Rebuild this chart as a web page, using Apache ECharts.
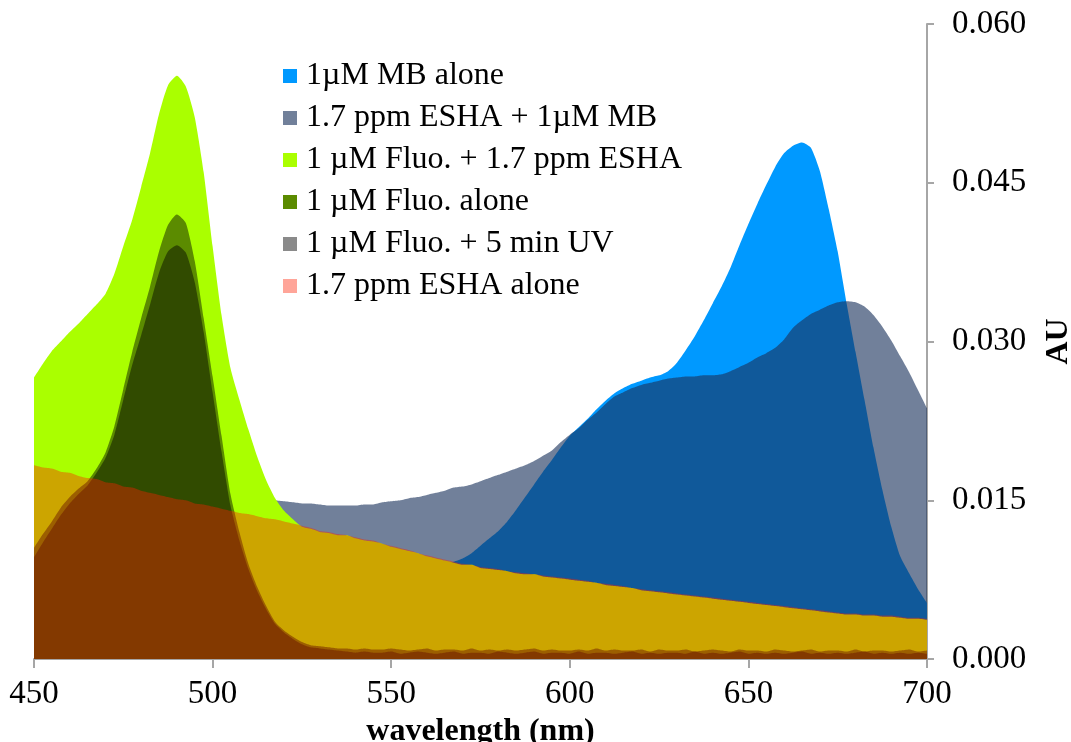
<!DOCTYPE html>
<html>
<head>
<meta charset="utf-8">
<title>Absorbance spectra</title>
<script src="https://cdn.jsdelivr.net/npm/echarts@6/dist/echarts.min.js"></script>
<style>
  html, body { margin: 0; padding: 0; background: #ffffff; overflow: hidden; }
  #chart { width: 1071px; height: 742px; }
</style>
</head>
<body>
<div id="chart"></div>
<script>
// Wavelength grid (nm)
const wavelength = [
  450, 452.5, 455, 457.5, 460, 462.5, 465, 467.5, 470, 472.5,
  475, 477.5, 480, 482.5, 485, 487.5, 490, 492.5, 495, 497.5,
  500, 502.5, 505, 507.5, 510, 512.5, 515, 517.5, 520, 522.5,
  525, 527.5, 530, 532.5, 535, 537.5, 540, 542.5, 545, 547.5,
  550, 552.5, 555, 557.5, 560, 562.5, 565, 567.5, 570, 572.5,
  575, 577.5, 580, 582.5, 585, 587.5, 590, 592.5, 595, 597.5,
  600, 602.5, 605, 607.5, 610, 612.5, 615, 617.5, 620, 622.5,
  625, 627.5, 630, 632.5, 635, 637.5, 640, 642.5, 645, 647.5,
  650, 652.5, 655, 657.5, 660, 662.5, 665, 667.5, 670, 672.5,
  675, 677.5, 680, 682.5, 685, 687.5, 690, 692.5, 695, 697.5,
  700
];

// 1 µM methylene blue alone
const mbAlone = [
  0.0036, 0.0036, 0.0035, 0.0035, 0.0034, 0.0034, 0.0034, 0.0033, 0.0033, 0.0033,
  0.0033, 0.0033, 0.0032, 0.0032, 0.0032, 0.0032, 0.0033, 0.0033, 0.0033, 0.0034,
  0.0034, 0.0035, 0.0035, 0.0036, 0.0037, 0.0038, 0.0039, 0.0040, 0.0042, 0.0043,
  0.0045, 0.0047, 0.0049, 0.0051, 0.0054, 0.0057, 0.0060, 0.0063, 0.0066, 0.0070,
  0.0073, 0.0077, 0.0080, 0.0083, 0.0086, 0.0088, 0.0090, 0.0092, 0.0095, 0.0100,
  0.0107, 0.0114, 0.0121, 0.0130, 0.0141, 0.0153, 0.0165, 0.0177, 0.0188, 0.0200,
  0.0211, 0.0219, 0.0227, 0.0236, 0.0244, 0.0251, 0.0256, 0.0260, 0.0263, 0.0266,
  0.0268, 0.0272, 0.0280, 0.0292, 0.0305, 0.0320, 0.0336, 0.0352, 0.0370, 0.0391,
  0.0411, 0.0430, 0.0448, 0.0465, 0.0478, 0.0485, 0.0488, 0.0483, 0.0461, 0.0425,
  0.0385, 0.0336, 0.0290, 0.0245, 0.0200, 0.0160, 0.0125, 0.0097, 0.0081, 0.0066,
  0.0053
];

// 1.7 ppm ESHA + 1 µM MB
const eshaMb = [
  0.0200, 0.0198, 0.0196, 0.0194, 0.0192, 0.0190, 0.0188, 0.0186, 0.0184, 0.0182,
  0.0180, 0.0178, 0.0176, 0.0174, 0.0172, 0.0170, 0.0168, 0.0166, 0.0164, 0.0162,
  0.0160, 0.0158, 0.0156, 0.0155, 0.0154, 0.0153, 0.0152, 0.0150, 0.0149, 0.0148,
  0.0147, 0.0147, 0.0146, 0.0145, 0.0145, 0.0145, 0.0145, 0.0146, 0.0146, 0.0148,
  0.0149, 0.0150, 0.0152, 0.0153, 0.0155, 0.0157, 0.0159, 0.0162, 0.0163, 0.0165,
  0.0168, 0.0171, 0.0174, 0.0177, 0.0180, 0.0183, 0.0187, 0.0192, 0.0197, 0.0205,
  0.0212, 0.0218, 0.0226, 0.0233, 0.0241, 0.0248, 0.0252, 0.0256, 0.0259, 0.0261,
  0.0263, 0.0265, 0.0266, 0.0267, 0.0267, 0.0268, 0.0268, 0.0269, 0.0272, 0.0276,
  0.0280, 0.0285, 0.0289, 0.0294, 0.0302, 0.0313, 0.0320, 0.0326, 0.0330, 0.0334,
  0.0337, 0.0338, 0.0337, 0.0333, 0.0325, 0.0314, 0.0301, 0.0286, 0.0271, 0.0254,
  0.0237
];

// 1 µM fluorescein + 1.7 ppm ESHA
const fluoEsha = [
  0.0266, 0.0279, 0.0291, 0.0300, 0.0309, 0.0317, 0.0326, 0.0335, 0.0345, 0.0364,
  0.0390, 0.0415, 0.0446, 0.0478, 0.0515, 0.0542, 0.0551, 0.0541, 0.0512, 0.0460,
  0.0390, 0.0325, 0.0275, 0.0245, 0.0217, 0.0191, 0.0169, 0.0152, 0.0140, 0.0132,
  0.0125, 0.0123, 0.0120, 0.0119, 0.0117, 0.0117, 0.0114, 0.0112, 0.0111, 0.0109,
  0.0106, 0.0104, 0.0102, 0.0100, 0.0097, 0.0095, 0.0093, 0.0091, 0.0089, 0.0089,
  0.0086, 0.0085, 0.0084, 0.0083, 0.0081, 0.0080, 0.0080, 0.0078, 0.0077, 0.0076,
  0.0075, 0.0074, 0.0073, 0.0072, 0.0070, 0.0069, 0.0068, 0.0067, 0.0065, 0.0064,
  0.0063, 0.0062, 0.0061, 0.0060, 0.0059, 0.0058, 0.0057, 0.0056, 0.0055, 0.0054,
  0.0053, 0.0052, 0.0051, 0.0050, 0.0049, 0.0048, 0.0047, 0.0046, 0.0045, 0.0044,
  0.0043, 0.0042, 0.0042, 0.0041, 0.0041, 0.0040, 0.0040, 0.0039, 0.0038, 0.0038,
  0.0037
];

// 1 µM fluorescein alone
const fluoAlone = [
  0.0105, 0.0118, 0.0130, 0.0143, 0.0153, 0.0161, 0.0168, 0.0180, 0.0195, 0.0220,
  0.0255, 0.0290, 0.0322, 0.0352, 0.0385, 0.0410, 0.0420, 0.0412, 0.0376, 0.0322,
  0.0267, 0.0211, 0.0156, 0.0120, 0.0090, 0.0068, 0.0050, 0.0035, 0.0027, 0.0021,
  0.0016, 0.0013, 0.0012, 0.0011, 0.0010, 0.0010, 0.0009, 0.0010, 0.0009, 0.0009,
  0.0010, 0.0009, 0.0008, 0.0009, 0.0010, 0.0008, 0.0009, 0.0009, 0.0008, 0.0010,
  0.0008, 0.0009, 0.0008, 0.0009, 0.0008, 0.0009, 0.0010, 0.0008, 0.0009, 0.0008,
  0.0008, 0.0009, 0.0008, 0.0010, 0.0008, 0.0009, 0.0008, 0.0008, 0.0009, 0.0007,
  0.0009, 0.0008, 0.0008, 0.0009, 0.0007, 0.0008, 0.0009, 0.0008, 0.0007, 0.0009,
  0.0008, 0.0008, 0.0007, 0.0009, 0.0008, 0.0007, 0.0008, 0.0009, 0.0007, 0.0008,
  0.0008, 0.0007, 0.0009, 0.0007, 0.0008, 0.0008, 0.0007, 0.0008, 0.0009, 0.0007,
  0.0008
];

// 1 µM fluorescein after 5 min UV
const fluoUv = [
  0.0096, 0.0110, 0.0123, 0.0136, 0.0147, 0.0156, 0.0164, 0.0176, 0.0190, 0.0212,
  0.0245, 0.0278, 0.0306, 0.0335, 0.0365, 0.0385, 0.0391, 0.0384, 0.0356, 0.0309,
  0.0252, 0.0196, 0.0145, 0.0112, 0.0085, 0.0064, 0.0047, 0.0033, 0.0025, 0.0019,
  0.0014, 0.0011, 0.0010, 0.0009, 0.0008, 0.0007, 0.0006, 0.0007, 0.0006, 0.0006,
  0.0007, 0.0005, 0.0006, 0.0007, 0.0006, 0.0005, 0.0006, 0.0007, 0.0005, 0.0006,
  0.0006, 0.0005, 0.0007, 0.0006, 0.0005, 0.0006, 0.0007, 0.0005, 0.0006, 0.0006,
  0.0005, 0.0007, 0.0005, 0.0006, 0.0006, 0.0005, 0.0006, 0.0007, 0.0005, 0.0006,
  0.0005, 0.0006, 0.0006, 0.0005, 0.0007, 0.0005, 0.0006, 0.0005, 0.0006, 0.0007,
  0.0005, 0.0006, 0.0005, 0.0006, 0.0005, 0.0006, 0.0007, 0.0005, 0.0006, 0.0005,
  0.0006, 0.0005, 0.0006, 0.0007, 0.0005, 0.0006, 0.0005, 0.0006, 0.0005, 0.0006,
  0.0005
];

// 1.7 ppm ESHA alone
const eshaAlone = [
  0.0183, 0.0181, 0.0180, 0.0177, 0.0176, 0.0173, 0.0171, 0.0170, 0.0167, 0.0166,
  0.0163, 0.0162, 0.0159, 0.0157, 0.0155, 0.0153, 0.0151, 0.0150, 0.0147, 0.0146,
  0.0144, 0.0142, 0.0140, 0.0138, 0.0137, 0.0135, 0.0133, 0.0132, 0.0130, 0.0128,
  0.0126, 0.0124, 0.0121, 0.0120, 0.0118, 0.0117, 0.0115, 0.0113, 0.0112, 0.0109,
  0.0107, 0.0105, 0.0103, 0.0100, 0.0098, 0.0096, 0.0094, 0.0092, 0.0090, 0.0089,
  0.0087, 0.0086, 0.0085, 0.0083, 0.0082, 0.0081, 0.0080, 0.0079, 0.0078, 0.0077,
  0.0076, 0.0075, 0.0074, 0.0072, 0.0071, 0.0070, 0.0069, 0.0067, 0.0066, 0.0065,
  0.0064, 0.0063, 0.0062, 0.0061, 0.0060, 0.0059, 0.0058, 0.0057, 0.0056, 0.0055,
  0.0054, 0.0053, 0.0052, 0.0051, 0.0050, 0.0049, 0.0048, 0.0047, 0.0046, 0.0045,
  0.0044, 0.0043, 0.0043, 0.0042, 0.0042, 0.0041, 0.0041, 0.0040, 0.0039, 0.0039,
  0.0038
];

const yTicks = ['0.000', '0.015', '0.030', '0.045', '0.060'];

// Series in drawing order (first is at the back); translucent fills blend where they overlap
const seriesDefs = [
  { name: '1\u00B5M MB alone',                  values: mbAlone,   color: '#0099ff' },
  { name: '1.7 ppm ESHA + 1\u00B5M MB',          values: eshaMb,    color: 'rgba(26,50,92,0.62)' },
  { name: '1 \u00B5M Fluo. + 1.7 ppm ESHA',      values: fluoEsha,  color: '#aaff00' },
  { name: '1 \u00B5M Fluo. alone',               values: fluoAlone, color: '#5b8b00' },
  { name: '1 \u00B5M Fluo. + 5 min UV',          values: fluoUv,    color: 'rgba(0,0,0,0.46)' },
  { name: '1.7 ppm ESHA alone',                  values: eshaAlone, color: 'rgba(255,30,0,0.40)' }
];

const FONT = '"Liberation Serif", "Times New Roman", serif';
const axisGray = '#a6a6a6';

const chart = echarts.init(document.getElementById('chart'), null, { renderer: 'canvas' });

chart.setOption({
  animation: false,
  backgroundColor: '#ffffff',
  grid: { left: 34, right: 144, top: 24, bottom: 83, containLabel: false, outerBoundsMode: 'none' },
  legend: {
    orient: 'vertical',
    left: 278,
    top: 55,
    padding: 5,
    icon: 'rect',
    itemWidth: 14,
    itemHeight: 14,
    itemGap: 10,
    selectedMode: false,
    textStyle: { fontFamily: FONT, fontSize: 32, color: '#000', padding: [0, 0, 0, 4] },
    data: seriesDefs.map(s => s.name)
  },
  xAxis: {
    type: 'value',
    min: 450,
    max: 700,
    interval: 50,
    name: 'wavelength (nm)',
    nameLocation: 'middle',
    nameGap: 53,
    nameTextStyle: { fontFamily: FONT, fontSize: 32, fontWeight: 'bold', color: '#000' },
    axisLine: { show: true, lineStyle: { color: axisGray, width: 2 } },
    axisTick: { show: true, length: 9, lineStyle: { color: axisGray, width: 2 } },
    axisLabel: { fontFamily: FONT, fontSize: 33, color: '#000', margin: 19 },
    splitLine: { show: false }
  },
  yAxis: {
    type: 'value',
    position: 'right',
    min: 0,
    max: 0.06,
    interval: 0.015,
    name: 'AU',
    nameLocation: 'middle',
    nameRotate: 90,
    nameGap: 116,
    nameTextStyle: { fontFamily: FONT, fontSize: 32, fontWeight: 'bold', color: '#000' },
    axisLine: { show: true, lineStyle: { color: axisGray, width: 2 } },
    axisTick: { show: true, length: 7, lineStyle: { color: axisGray, width: 2 } },
    axisLabel: {
      fontFamily: FONT, fontSize: 33, color: '#000', margin: 25,
      formatter: v => yTicks[Math.round(v / 0.015)]
    },
    splitLine: { show: false }
  },
  series: seriesDefs.map(s => ({
    name: s.name,
    type: 'line',
    data: wavelength.map((w, i) => [w, s.values[i]]),
    color: s.color,
    showSymbol: false,
    symbol: 'none',
    smooth: 0.2,
    lineStyle: { width: 0, color: s.color },
    areaStyle: { color: s.color, opacity: 1 },
    emphasis: { disabled: true },
    silent: true
  }))
});
</script>
</body>
</html>
